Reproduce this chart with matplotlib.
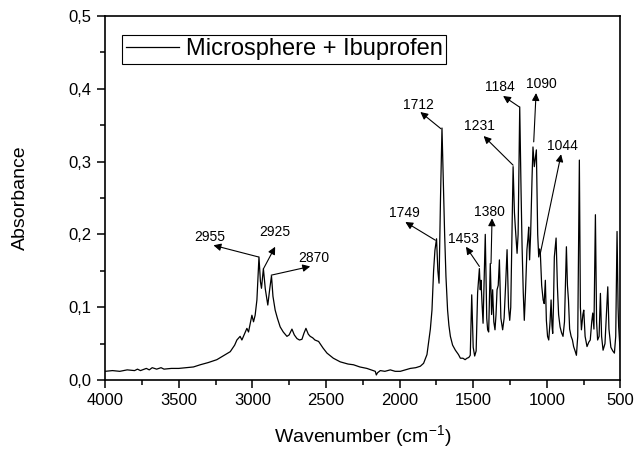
import matplotlib
matplotlib.use('Agg')
import matplotlib.pyplot as plt
from matplotlib.ticker import MultipleLocator, FuncFormatter

plt.rcParams['font.family'] = ['Liberation Sans', 'DejaVu Sans']
plt.rcParams['mathtext.fontset'] = 'custom'
plt.rcParams['mathtext.rm'] = 'Liberation Sans'
plt.rcParams['mathtext.it'] = 'Liberation Sans:italic'

# spectrum (wavenumber cm-1, absorbance)
wavenumber = [
    4000, 3950, 3900, 3850, 3800, 3780, 3760, 3720, 3700, 3680, 3650, 3620,
    3600, 3550, 3500, 3450, 3400, 3354, 3300, 3241, 3200, 3150, 3120, 3105,
    3083, 3071, 3050, 3037, 3026, 3010, 3003, 2992, 2981, 2969, 2955, 2945,
    2938, 2925, 2912, 2895, 2882, 2870, 2860, 2845, 2830, 2811, 2790, 2765,
    2750, 2731, 2715, 2697, 2680, 2663, 2650, 2636, 2620, 2607, 2590, 2575,
    2550, 2520, 2493, 2450, 2403, 2350, 2313, 2270, 2222, 2180, 2165, 2158,
    2150, 2131, 2100, 2063, 2030, 1995, 1960, 1927, 1890, 1859, 1837, 1814,
    1791, 1780, 1769, 1760, 1749, 1740, 1732, 1722, 1712, 1701, 1694, 1685,
    1674, 1665, 1655, 1640, 1621, 1600, 1587, 1570, 1555, 1542, 1530, 1520,
    1510, 1500, 1490, 1480, 1470, 1458, 1452, 1447, 1440, 1433, 1418, 1408,
    1402, 1395, 1384, 1375, 1368, 1360, 1352, 1345, 1338, 1330, 1322, 1312,
    1300, 1290, 1280, 1270, 1260, 1252, 1245, 1229, 1220, 1214, 1202, 1195,
    1184, 1175, 1168, 1160, 1153, 1145, 1135, 1128, 1123, 1117, 1110, 1100,
    1094, 1085, 1071, 1062, 1055, 1049, 1044, 1035, 1025, 1018, 1010, 1003,
    995, 987, 978, 971, 965, 960, 955, 949, 937, 928, 920, 910,
    900, 890, 880, 867, 860, 853, 845, 835, 826, 818, 808, 799,
    790, 779, 772, 765, 755, 749, 740, 727, 715, 705, 695, 688,
    680, 670, 662, 655, 645, 636, 628, 618, 605, 595, 586, 578,
    565, 552, 541, 532, 523, 516, 512, 505, 500,
]
absorbance = [
    0.012, 0.013, 0.012, 0.014, 0.013, 0.015, 0.013, 0.016, 0.014, 0.017, 0.015, 0.017,
    0.015, 0.016, 0.016, 0.017, 0.018, 0.021, 0.024, 0.028, 0.033, 0.039, 0.048, 0.055,
    0.060, 0.055, 0.065, 0.071, 0.066, 0.082, 0.089, 0.080, 0.089, 0.110, 0.169, 0.135,
    0.126, 0.153, 0.125, 0.103, 0.125, 0.143, 0.115, 0.096, 0.085, 0.073, 0.066, 0.060,
    0.062, 0.070, 0.062, 0.057, 0.055, 0.056, 0.064, 0.071, 0.063, 0.060, 0.058, 0.055,
    0.053, 0.044, 0.037, 0.030, 0.025, 0.022, 0.021, 0.018, 0.016, 0.013, 0.012, 0.007,
    0.010, 0.013, 0.012, 0.014, 0.012, 0.012, 0.014, 0.016, 0.017, 0.019, 0.023, 0.035,
    0.070, 0.096, 0.150, 0.178, 0.194, 0.150, 0.133, 0.250, 0.346, 0.256, 0.200, 0.142,
    0.096, 0.075, 0.060, 0.048, 0.041, 0.035, 0.030, 0.030, 0.028, 0.030, 0.031, 0.034,
    0.117, 0.045, 0.033, 0.040, 0.120, 0.153, 0.124, 0.137, 0.105, 0.078, 0.200, 0.085,
    0.069, 0.066, 0.160, 0.090, 0.124, 0.080, 0.069, 0.090, 0.124, 0.130, 0.165, 0.085,
    0.069, 0.085, 0.130, 0.179, 0.100, 0.082, 0.100, 0.293, 0.230, 0.210, 0.174, 0.200,
    0.375, 0.260, 0.183, 0.120, 0.082, 0.120, 0.179, 0.195, 0.210, 0.165, 0.200, 0.280,
    0.320, 0.293, 0.316, 0.200, 0.169, 0.180, 0.174, 0.130, 0.110, 0.105, 0.137, 0.082,
    0.060, 0.055, 0.080, 0.110, 0.075, 0.064, 0.100, 0.169, 0.195, 0.128, 0.090, 0.073,
    0.065, 0.060, 0.080, 0.183, 0.130, 0.110, 0.070, 0.060, 0.055, 0.046, 0.040, 0.034,
    0.060, 0.302, 0.100, 0.069, 0.090, 0.096, 0.060, 0.046, 0.052, 0.055, 0.080, 0.092,
    0.070, 0.227, 0.080, 0.055, 0.060, 0.119, 0.060, 0.041, 0.050, 0.090, 0.128, 0.070,
    0.045, 0.040, 0.037, 0.060, 0.204, 0.100, 0.073, 0.050, 0.040,
]

# peak labels: text, text position, arrow tail (on the peak), arrow head
peak_labels = ['2955', '2925', '2870', '1749', '1712', '1453', '1380', '1231', '1184', '1090', '1044']
label_pos = [(3286, 0.196), (2845, 0.203), (2584, 0.167), (1968, 0.229), (1871, 0.377),
             (1565, 0.193), (1388, 0.231), (1456, 0.349), (1322, 0.403), (1039, 0.407), (892, 0.321)]
arrow_tail = [(2958, 0.169), (2924, 0.153), (2872, 0.144), (1757, 0.192), (1719, 0.345),
              (1458, 0.156), (1379, 0.160), (1229, 0.295), (1187, 0.375), (1089, 0.327), (1044, 0.174)]
arrow_head = [(3264, 0.185), (2845, 0.183), (2607, 0.156), (1961, 0.217), (1859, 0.368),
              (1549, 0.183), (1372, 0.222), (1429, 0.335), (1297, 0.390), (1073, 0.394), (903, 0.310)]

fig = plt.figure(figsize=(6.37, 4.53), dpi=100)
ax = fig.add_axes([0.165, 0.161, 0.809, 0.804])

ax.plot(wavenumber, absorbance, color='black', lw=0.9, label='Microsphere + Ibuprofen')

for txt, pos, tail, head in zip(peak_labels, label_pos, arrow_tail, arrow_head):
    ax.annotate('', xy=head, xytext=tail,
                arrowprops=dict(arrowstyle='-|>', color='black', lw=0.8,
                                mutation_scale=11, shrinkA=0, shrinkB=0))
    ax.text(pos[0], pos[1], txt, ha='center', va='center', fontsize=10)

ax.set_xlim(4000, 500)
ax.set_ylim(0, 0.5)
ax.xaxis.set_major_locator(MultipleLocator(500))
ax.xaxis.set_minor_locator(MultipleLocator(250))
ax.yaxis.set_major_locator(MultipleLocator(0.1))
ax.yaxis.set_minor_locator(MultipleLocator(0.05))
ax.yaxis.set_major_formatter(FuncFormatter(lambda v, p: f'{v:.1f}'.replace('.', ',')))
ax.tick_params(which='major', direction='out', length=6, width=1.1, labelsize=12)
ax.tick_params(which='minor', direction='out', length=3.5, width=1.1)
ax.tick_params(axis='y', pad=4)
for s in ax.spines.values():
    s.set_linewidth(1.2)

ax.set_xlabel('Wavenumber (cm$^{-1}$)', fontsize=14, labelpad=11)
ax.set_ylabel('Absorbance', fontsize=14, labelpad=28)

leg = ax.legend(loc='upper left', bbox_to_anchor=(0.033, 0.948), borderaxespad=0,
                fontsize=17, handlelength=2.25, handletextpad=0.3, borderpad=0.15,
                fancybox=False, framealpha=1)
leg.get_frame().set_edgecolor('black')
leg.get_frame().set_linewidth(0.8)

fig.savefig('out.png', dpi=100)
